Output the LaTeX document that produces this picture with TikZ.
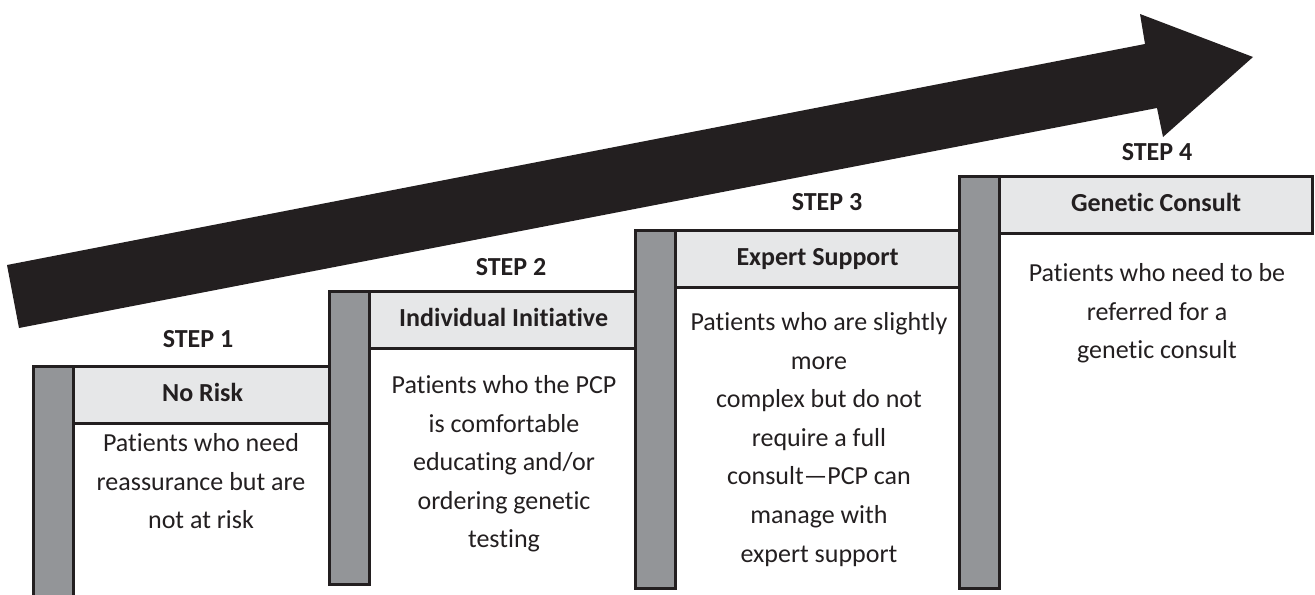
\documentclass[tikz,border=0pt]{standalone}
\usepackage{fontspec}
\setmainfont[Ligatures={TeX,CommonOff}]{Carlito}
\usepackage{xcolor}
\usepackage{tikz}
\usetikzlibrary{shapes,arrows.meta}
\definecolor{postgray}{RGB}{147,149,152}
\definecolor{headgray}{RGB}{230,231,232}
\definecolor{inkblack}{RGB}{35,31,32}
\tikzset{
  post/.style={draw=inkblack,line width=1.6pt,fill=postgray,rectangle,anchor=north west,inner sep=0pt,minimum width=20pt},
  header/.style={draw=inkblack,line width=1.6pt,fill=headgray,rectangle,anchor=north west,inner sep=0pt,minimum height=28.5pt,text=inkblack,font=\fontsize{13}{16}\selectfont\bfseries,text height=9pt,text depth=2.5pt},
  steplabel/.style={text=inkblack,font=\fontsize{13}{16}\selectfont\bfseries},
  bodytext/.style={anchor=north,align=center,inner sep=0pt,text=inkblack,font=\fontsize{13}{19.3}\selectfont}
}

\begin{document}
\begin{tikzpicture}[x=0.5pt,y=-0.5pt]
            \useasboundingbox (0,0) rectangle (1315,594);
            % rising arrow
            \fill[inkblack] (7,265) -- (1145,44) -- (1140,14) -- (1253,57) -- (1163,137) -- (1157,108) -- (19,328) -- cycle;
            % step 1
            \node[header,minimum width=129pt] (head1) at (72,365) {No Risk};
            \node[post,minimum height=117.5pt] (post1) at (32,365) {};
            \node[steplabel] (label1) at (198,339) {STEP 1};
            \node[bodytext] (body1) at (201,433) {Patients who need\\reassurance but are\\not at risk};
            % step 2
            \node[header,minimum width=134pt] (head2) at (368,290) {Individual Initiative};
            \node[post,minimum height=146.5pt] (post2) at (328,290) {};
            \node[steplabel] (label2) at (511,267) {STEP 2};
            \node[bodytext] (body2) at (504,375) {Patients who the PCP\\is comfortable\\educating and/or\\ordering genetic\\testing};
            % step 3
            \node[header,minimum width=142pt] (head3) at (674,229) {Expert Support};
            \node[post,minimum height=179pt] (post3) at (634,229) {};
            \node[steplabel] (label3) at (827,202) {STEP 3};
            \node[bodytext] (body3) at (819,312) {Patients who are slightly\\more\\complex but do not\\require a full\\consult—PCP can\\manage with\\expert support};
            % step 4
            \node[header,minimum width=156.5pt] (head4) at (998,175) {Genetic Consult};
            \node[post,minimum height=206pt] (post4) at (958,175) {};
            \node[steplabel] (label4) at (1157,152) {STEP 4};
            \node[bodytext] (body4) at (1157,263) {Patients who need to be\\referred for a\\genetic consult};
        \end{tikzpicture}
\end{document}
